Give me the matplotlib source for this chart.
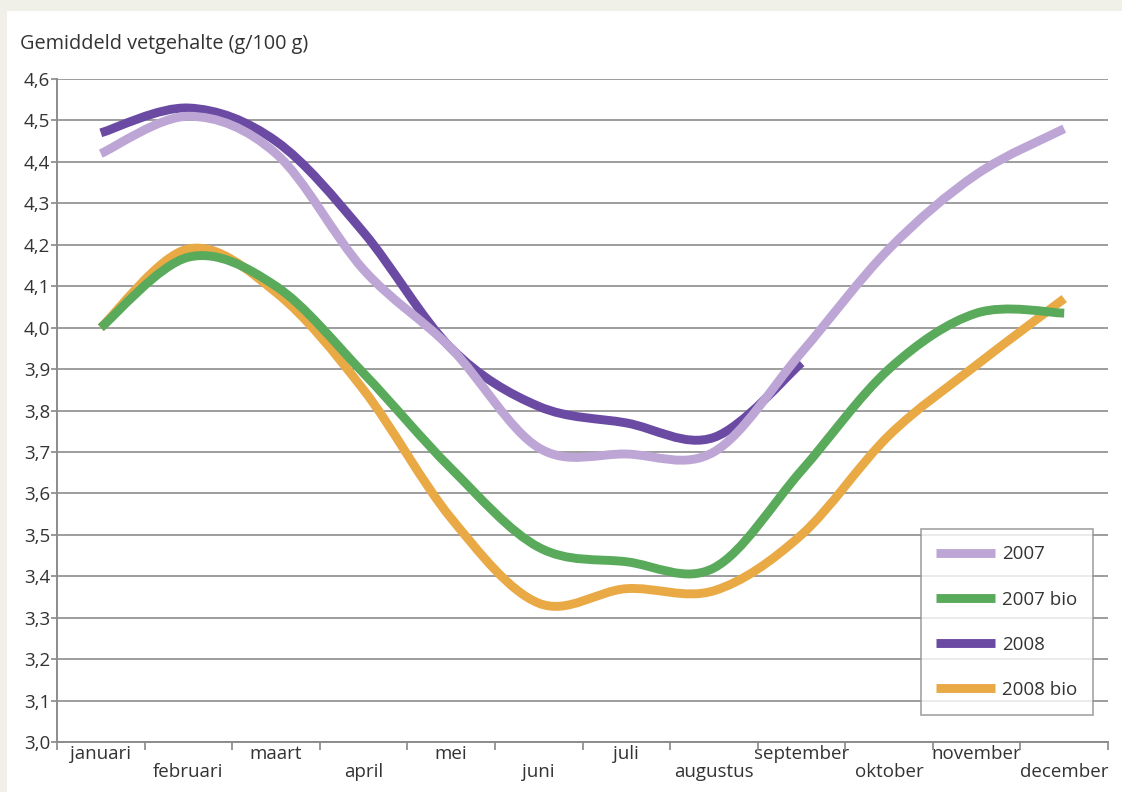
import numpy as np
import matplotlib.pyplot as plt
from matplotlib.path import Path
from matplotlib.patches import PathPatch, Rectangle
from matplotlib.lines import Line2D

plt.rcParams['font.family'] = ['Open Sans', 'DejaVu Sans']

months = ["januari", "februari", "maart", "april", "mei", "juni", "juli",
          "augustus", "september", "oktober", "november", "december"]

# gemiddeld vetgehalte per maand (g/100 g)
vet2007 = [4.42, 4.51, 4.42, 4.14, 3.95, 3.71, 3.695, 3.70, 3.94, 4.19, 4.37, 4.48]
vet2007bio = [4.00, 4.17, 4.10, 3.89, 3.66, 3.47, 3.435, 3.42, 3.655, 3.90, 4.035, 4.035]
vet2008 = [4.47, 4.53, 4.45, 4.23, 3.95, 3.81, 3.77, 3.735, 3.915]
vet2008bio = [4.00, 4.19, 4.085, 3.85, 3.54, 3.335, 3.37, 3.365, 3.50, 3.74, 3.91, 4.07]

series = [
    ("2008 bio", vet2008bio, "#e9a945"),
    ("2008", vet2008, "#6a4aa3"),
    ("2007 bio", vet2007bio, "#5aaa5c"),
    ("2007", vet2007, "#bda6d6"),
]
legend_order = ["2007", "2007 bio", "2008", "2008 bio"]

FS = 13.5


# vloeiende lijn (Catmull-Rom als Bezier) door de maandwaarden
def smooth_path(y):
    x = np.arange(len(y), dtype=float)
    y = np.asarray(y, dtype=float)
    pts = np.column_stack((x, y))
    ext = np.vstack((pts[0], pts, pts[-1]))
    verts = [pts[0]]
    codes = [Path.MOVETO]
    for i in range(len(pts) - 1):
        p0, p1, p2, p3 = ext[i], ext[i + 1], ext[i + 2], ext[i + 3]
        c1 = p1 + (p2 - p0) / 6.0
        c2 = p2 - (p3 - p1) / 6.0
        verts += [c1, c2, p2]
        codes += [Path.CURVE4] * 3
    return Path(verts, codes)


fig = plt.figure(figsize=(11.22, 7.92), dpi=100, facecolor="#f0f0e8")
fig.patches.append(Rectangle((7 / 1122, 0), 1, 1 - 11 / 792, transform=fig.transFigure,
                             facecolor="white", edgecolor="none", zorder=-10))

ax = fig.add_axes([57 / 1122, 1 - 742 / 792, (1108 - 57) / 1122, (742 - 79) / 792])
ax.set_facecolor("none")
ax.set_zorder(2)

lw = 6.4
for name, vals, col in series:
    ax.add_patch(PathPatch(smooth_path(vals), facecolor="none", edgecolor=col,
                           lw=lw, capstyle="butt", joinstyle="round", zorder=3))

ax.set_xlim(-0.5, 11.5)
ax.set_ylim(3.0, 4.6)

yt = np.round(np.arange(3.0, 4.61, 0.1), 1)
ax.set_yticks(yt)
ax.set_yticklabels([f"{v:.1f}".replace(".", ",") for v in yt], fontsize=FS, color="#333333")
ax.tick_params(axis="y", length=4, width=1.2, color="#888888", pad=1)
ax.grid(axis="y", color="#8c8c8c", lw=1.2, zorder=1)
ax.set_axisbelow(True)

ax.set_xticks(np.arange(12))
ax.set_xticklabels([m if i % 2 == 0 else "\n" + m for i, m in enumerate(months)],
                   fontsize=FS, color="#333333", linespacing=1.0)
ax.tick_params(axis="x", length=0, pad=2)
ax.set_xticks(np.arange(-0.5, 12, 1), minor=True)
ax.tick_params(axis="x", which="minor", length=6, width=1.2, color="#888888")

for s in ["top", "right"]:
    ax.spines[s].set_visible(False)
for s in ["left", "bottom"]:
    ax.spines[s].set_color("#8c8c8c")
    ax.spines[s].set_linewidth(1.4)

fig.text(20 / 1122, 1 - 44 / 792, "Gemiddeld vetgehalte (g/100 g)", fontsize=14.3,
         color="#333333", va="center", ha="left")

cols = {n: c for n, v, c in series}
handles = [Line2D([], [], color=cols[n], lw=lw, solid_capstyle="butt") for n in legend_order]
leg = ax.legend(handles, legend_order, loc="lower right", bbox_to_anchor=(0.986, 0.041),
                fontsize=FS, frameon=True, fancybox=False, handlelength=3.1,
                labelspacing=1.45, borderpad=0.85, handletextpad=0.4, borderaxespad=0)
leg.get_frame().set_edgecolor("#8c8c8c")
leg.get_frame().set_linewidth(1.2)
for t in leg.get_texts():
    t.set_color("#333333")

fig.savefig("out.png", dpi=100, facecolor=fig.get_facecolor())
